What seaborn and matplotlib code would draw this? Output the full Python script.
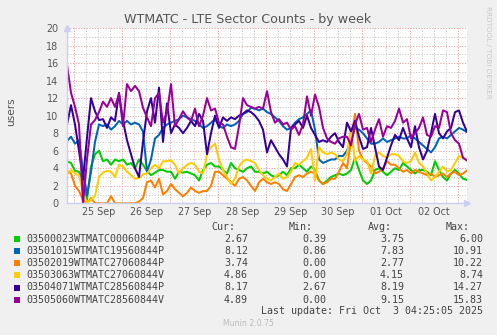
import numpy as np
import pandas as pd
import matplotlib
matplotlib.use("Agg")
import matplotlib.pyplot as plt
from matplotlib.patches import Rectangle
import seaborn as sns

# ---------------- data (one sample every 2 hours) ----------------
series_names = [
    "03500023WTMATC00060844P",
    "03501015WTMATC19560844P",
    "03502019WTMATC27060844P",
    "03503063WTMATC27060844V",
    "03504071WTMATC28560844P",
    "03505060WTMATC28560844V",
]
colors = ["#00CC00", "#0066B3", "#FF8000", "#FFCC00", "#330099", "#990099"]

green = [4.8, 4.6, 3.7, 3.6, 2.6, 0.4, 4.2, 5.6, 6.0, 4.8, 5.0, 4.4, 5.0, 4.8, 5.0, 4.4, 4.6,
         4.0, 5.0, 4.4, 3.7, 3.2, 3.5, 3.8, 3.8,
         3.6, 3.6, 2.8, 3.6, 3.5, 3.6, 3.4, 3.2, 2.6, 3.8, 4.4, 4.6, 4.2, 4.2, 3.8, 3.4, 4.6,
         4.0, 3.8, 3.6, 4.0, 4.2, 3.6, 3.6, 3.4,
         3.6, 3.2, 3.0, 3.2, 3.6, 3.2, 4.0, 4.0, 4.4, 4.0, 3.6, 4.2, 3.8, 2.6, 2.2, 2.6, 3.0,
         3.2, 3.4, 3.2, 3.4, 3.8, 5.2, 3.8, 2.6,
         2.2, 2.6, 3.8, 4.0, 3.6, 3.2, 3.6, 4.0, 3.8, 4.6, 4.2, 3.8, 3.4, 3.8, 3.8, 3.6, 3.2,
         4.8, 3.8, 3.0, 2.6, 3.4, 3.8, 3.4, 2.8, 2.67]
blue = [7.1, 7.6, 6.8, 7.2, 3.8, 0.9, 3.6, 7.0, 9.0, 8.8, 9.0, 8.4, 8.8, 9.4, 9.0, 9.4, 9.0,
        9.2, 9.0, 8.2, 3.6, 5.0, 7.4, 7.8, 8.6,
        9.0, 9.2, 9.4, 9.6, 10.0, 9.8, 9.6, 9.4, 9.0, 8.6, 8.8, 9.2, 9.6, 8.8, 8.6, 9.0, 8.8,
        9.0, 9.4, 10.2, 10.4, 10.9, 10.8, 10.6, 10.8,
        10.4, 10.2, 9.8, 9.4, 8.8, 8.4, 8.6, 9.2, 9.6, 9.8, 10.2, 10.6, 8.4, 5.0, 4.6, 4.8,
        5.0, 5.0, 5.4, 5.4, 6.0, 7.2, 8.6, 8.4, 8.0,
        7.4, 6.8, 6.8, 7.0, 7.4, 7.0, 7.2, 7.4, 7.6, 7.4, 7.4, 7.8, 7.4, 7.0, 6.6, 6.2, 5.8,
        6.4, 7.4, 7.6, 7.4, 7.8, 8.2, 8.6, 8.4, 8.12]
orange = [3.7, 3.4, 2.0, 1.4, 0.4, 0.0, 0.6, 0.0, 0.0, 0.0, 0.0, 0.8, 0.0, 0.0, 0.0, 0.0,
          0.0, 0.0, 0.2, 0.6, 2.4, 2.6, 1.8, 2.8, 1.0,
          1.4, 2.2, 1.6, 1.2, 0.8, 1.2, 1.8, 1.4, 1.2, 1.4, 1.4, 2.0, 3.6, 3.6, 3.2, 2.8, 2.4,
          2.0, 2.8, 3.0, 2.6, 2.0, 1.4, 2.4, 2.8,
          2.4, 2.2, 2.4, 2.2, 1.6, 1.4, 2.2, 3.0, 3.2, 3.0, 3.4, 3.6, 3.4, 2.6, 2.2, 2.4, 2.8,
          2.8, 3.6, 4.6, 4.0, 7.2, 10.2, 6.0, 5.0,
          4.6, 4.2, 3.4, 3.6, 4.0, 4.8, 4.4, 4.4, 4.0, 3.6, 3.8, 3.4, 3.8, 3.6, 3.4, 3.2, 3.4,
          3.0, 3.2, 3.4, 3.0, 3.4, 3.6, 3.2, 3.4, 3.74]
yellow = [3.3, 3.8, 3.4, 3.2, 1.2, 0.0, 0.4, 0.8, 3.0, 3.5, 3.7, 3.6, 3.0, 4.4, 4.2, 3.6,
          3.2, 2.8, 2.9, 3.3, 3.4, 4.0, 4.4, 4.0, 4.8,
          4.8, 4.9, 4.4, 3.4, 4.0, 4.4, 4.6, 4.4, 3.6, 3.4, 5.6, 6.4, 6.8, 5.0, 3.8, 3.0, 2.2,
          2.8, 4.2, 4.8, 5.0, 4.8, 4.6, 3.8, 3.2,
          2.8, 2.6, 3.0, 3.4, 2.8, 3.0, 3.6, 4.6, 4.4, 4.8, 5.2, 6.2, 2.6, 6.4, 5.8, 5.6, 5.8,
          5.6, 5.0, 4.8, 5.6, 8.6, 4.8, 5.4, 5.0,
          4.8, 3.4, 5.4, 5.8, 5.4, 5.2, 5.6, 5.6, 5.4, 4.8, 4.6, 4.8, 5.8, 4.6, 4.2, 3.4, 2.6,
          3.0, 3.6, 4.2, 3.6, 3.8, 4.6, 5.4, 5.2, 4.86]
indigo = [9.0, 11.2, 9.0, 6.0, 2.7, 7.5, 12.0, 10.5, 9.5, 9.6, 8.6, 9.8, 9.4, 12.6, 9.4, 7.2,
          5.6, 4.0, 3.0, 7.0, 10.5, 12.0, 9.2, 13.2, 7.0,
          11.4, 8.0, 9.0, 8.6, 8.0, 8.6, 9.4, 8.8, 10.2, 9.4, 5.6, 8.0, 10.0, 8.6, 9.8, 9.4,
          9.8, 9.6, 10.0, 10.2, 10.6, 10.4, 10.0, 9.4, 8.4,
          5.8, 7.2, 6.4, 5.6, 5.0, 4.2, 8.6, 9.0, 9.4, 8.6, 10.0, 8.6, 7.8, 7.0, 7.2, 7.0, 7.6,
          8.0, 7.0, 6.4, 9.2, 8.2, 9.4, 7.6, 6.2,
          6.4, 8.6, 6.4, 4.2, 3.8, 5.2, 6.6, 7.8, 7.2, 8.6, 7.4, 6.4, 8.8, 6.4, 5.0, 6.0, 8.0,
          10.2, 8.0, 7.4, 8.2, 8.6, 10.4, 10.6, 9.2, 8.17]
magenta = [15.8, 12.6, 11.0, 9.0, 0.0, 5.0, 9.0, 9.5, 10.4, 11.6, 11.0, 12.0, 11.0, 12.5, 8.8,
           13.6, 12.8, 13.4, 12.8, 10.9, 9.8, 8.8, 12.0, 12.6, 9.2,
           10.4, 13.6, 8.8, 9.6, 10.5, 9.8, 9.4, 10.8, 8.8, 10.0, 12.0, 10.6, 10.8, 9.2, 9.0,
           7.6, 6.4, 6.2, 8.8, 12.0, 11.2, 11.0, 10.8, 11.0, 10.8,
           12.8, 10.4, 9.2, 9.6, 9.0, 9.2, 8.4, 8.8, 7.8, 9.0, 12.2, 10.0, 12.4, 11.0, 8.6, 7.4,
           7.0, 6.8, 7.4, 7.6, 7.6, 6.6, 9.0, 10.2, 8.4,
           8.6, 7.0, 8.4, 9.6, 7.6, 8.8, 8.6, 9.4, 10.8, 9.2, 9.6, 7.4, 8.0, 8.6, 9.8, 7.8, 7.6,
           8.8, 8.6, 10.6, 10.4, 8.0, 7.2, 6.8, 5.2, 4.89]

cur_vals = ["2.67", "8.12", "3.74", "4.86", "8.17", "4.89"]
min_vals = ["0.39", "0.86", "0.00", "0.00", "2.67", "0.00"]
avg_vals = ["3.75", "7.83", "2.77", "4.15", "8.19", "9.15"]
max_vals = ["6.00", "10.91", "10.22", "8.74", "14.27", "15.83"]

day_labels = ["25 Sep", "26 Sep", "27 Sep", "28 Sep", "29 Sep", "30 Sep", "01 Oct", "02 Oct"]

# ---------------- layout constants ----------------
W, H = 497, 335
span_hours = 200.0               # one-week munin graph: ~8.33 days
first_midnight = 3.58            # hours from graph start to 25 Sep 00:00
step_hours = 2.0
hours = np.arange(len(green)) * step_hours

df = pd.concat([
    pd.DataFrame({"hour": hours, "value": vals, "series": name})
    for name, vals in zip(series_names, [green, blue, orange, yellow, indigo, magenta])
])

sns.set_style("white")
plt.rcParams["font.family"] = ["DejaVu Sans"]

fig = plt.figure(figsize=(W / 100, H / 100), dpi=100, facecolor="#F0F0F0")
ax = fig.add_axes([67 / W, 1 - 203.3 / H, 400 / W, 175.3 / H])
ax.set_facecolor("white")

# grid (drawn manually to mimic rrdtool)
minor_c, major_c = "#c8c8c8", "#e8a0a0"
dash = (0, (1.2, 1.6))
for y in range(1, 21):
    ax.axhline(y, color=major_c if y % 2 == 0 else minor_c, lw=0.7, ls=dash, zorder=0)
k = 0
t = first_midnight
while t < span_hours:
    ax.axvline(t, color=major_c if k % 4 == 0 else minor_c, lw=0.7, ls=dash, zorder=0)
    k += 1
    t += 6

sns.lineplot(data=df, x="hour", y="value", hue="series", palette=colors,
             hue_order=series_names, legend=False, linewidth=1.45, ax=ax, zorder=3)

ax.set_xlim(0, span_hours)
ax.set_ylim(0, 20)
ax.set_yticks(range(0, 21, 2))
ax.set_xticks([first_midnight + 12 + 24 * i for i in range(len(day_labels))], labels=day_labels)
ax.tick_params(axis="both", length=0, labelsize=6.9, labelcolor="#555555")
ax.tick_params(axis="y", pad=6)
ax.tick_params(axis="x", pad=3)
ax.set_xlabel("")
ax.set_ylabel("users", fontsize=7.6, color="#555555")
ax.yaxis.set_label_coords(-0.128, 0.52)

for s in ["top", "right"]:
    ax.spines[s].set_visible(False)
axis_c = "#c8d0f4"
for s in ["left", "bottom"]:
    ax.spines[s].set_color(axis_c)
    ax.spines[s].set_linewidth(1.0)
    ax.spines[s].set_zorder(4)
ax.plot([0], [1.0], marker="^", ms=4.5, color=axis_c, transform=ax.transAxes, clip_on=False, zorder=5)
ax.plot([1.0], [0], marker=">", ms=4.5, color=axis_c, transform=ax.transAxes, clip_on=False, zorder=5)

# title & watermark
fig.text(248 / W, 1 - 19 / H, "WTMATC - LTE Sector Counts - by week", ha="center", va="center",
         fontsize=9.1, color="#555555")
fig.text(488 / W, 1 - 52 / H, "RRDTOOL / TOBI OETIKER", rotation=-90, ha="center", va="center",
         fontsize=5.2, color="#c8c8c8")

# legend block
mono = "DejaVu Sans Mono"
fs = 7.2
txt_c = "#444444"
for xr, head in zip([235, 313, 392, 470], ["Cur:", "Min:", "Avg:", "Max:"]):
    fig.text(xr / W, 1 - 227 / H, head, ha="right", va="center", family=mono, fontsize=fs, color=txt_c)
for i, name in enumerate(series_names):
    yp = 239.3 + 12.05 * i
    fig.patches.append(Rectangle((14 / W, 1 - (yp + 3) / H), 6 / W, 6 / H, transform=fig.transFigure,
                                 facecolor=colors[i], edgecolor="none"))
    fig.text(26 / W, 1 - yp / H, name, ha="left", va="center", family=mono, fontsize=fs, color=txt_c)
    for xr, vals in zip([248, 326, 404, 483], [cur_vals, min_vals, avg_vals, max_vals]):
        fig.text(xr / W, 1 - yp / H, vals[i], ha="right", va="center", family=mono, fontsize=fs,
                 color=txt_c)
fig.text(483 / W, 1 - 311 / H, "Last update: Fri Oct  3 04:25:05 2025", ha="right", va="center",
         family=mono, fontsize=fs, color=txt_c)
fig.text(248 / W, 1 - 324 / H, "Munin 2.0.75", ha="center", va="center", fontsize=5.6, color="#bbbbbb")

fig.savefig("out.png", dpi=100, facecolor=fig.get_facecolor())
